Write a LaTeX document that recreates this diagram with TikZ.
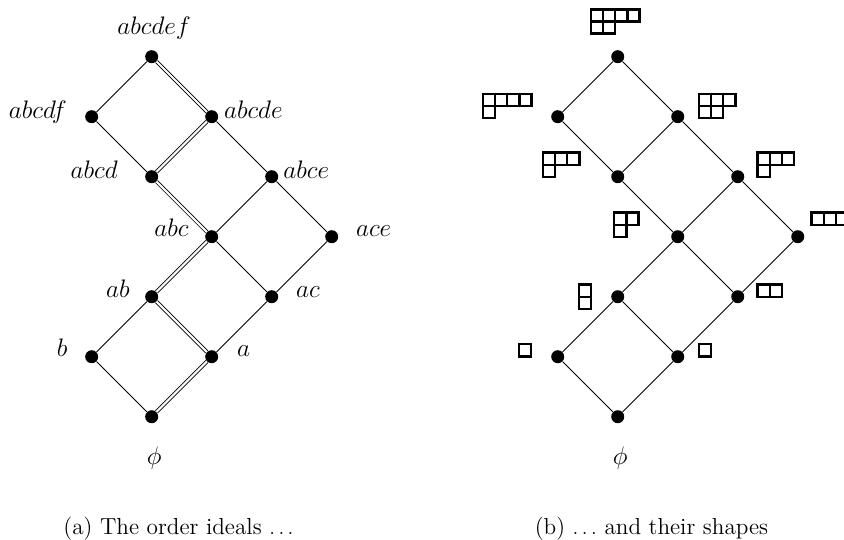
\documentclass[tikz,border=0pt]{standalone}
\usepackage{amsmath, amssymb}
\usepackage{tikz}

% lado de cada casilla de los diagramas
\newcommand{\lado}{0.203}
% diagrama de Young: #1 esquina superior izquierda, #2 longitudes de las filas
\newcommand{\forma}[2]{%
  \begin{scope}[shift={#1}]
    \foreach \largo [count=\fila] in {#2}
      \foreach \columna in {1,...,\largo}
        \draw[celda] ({(\columna-1)*\lado},{-(\fila-1)*\lado}) rectangle ++(\lado,-\lado);
  \end{scope}}

\begin{document}
\begin{tikzpicture}[x=1.2cm, y=1.2cm,
    punto/.style={circle, fill=black, inner sep=0pt, minimum size=0.26cm},
    arista/.style={line width=0.5pt},
    doble/.style={double, double distance=1.2pt, line width=0.5pt},
    etiqueta/.style={inner sep=0pt, font=\fontsize{14.6}{17}\selectfont},
    pie/.style={inner sep=0pt, anchor=base, font=\fontsize{13.2}{15}\selectfont},
    celda/.style={line width=1.4pt}]

		\useasboundingbox (-2.528,-2.038) rectangle (11.538,6.945);

		% (a) Los ideales
		\node[punto] (L-phi) at (0,0) {};
		\node[punto] (L-b) at (-1,1) {};
		\node[punto] (L-a) at (1,1) {};
		\node[punto] (L-ab) at (0,2) {};
		\node[punto] (L-ac) at (2,2) {};
		\node[punto] (L-abc) at (1,3) {};
		\node[punto] (L-ace) at (3,3) {};
		\node[punto] (L-abcd) at (0,4) {};
		\node[punto] (L-abce) at (2,4) {};
		\node[punto] (L-abcdf) at (-1,5) {};
		\node[punto] (L-abcde) at (1,5) {};
		\node[punto] (L-abcdef) at (0,6) {};

		\draw[arista] (L-phi) -- (L-b);
		\draw[arista] (L-b) -- (L-ab);
		\draw[arista] (L-a) -- (L-ac);
		\draw[arista] (L-ac) -- (L-abc);
		\draw[arista] (L-ac) -- (L-ace);
		\draw[arista] (L-abc) -- (L-abce);
		\draw[arista] (L-ace) -- (L-abce);
		\draw[arista] (L-abcd) -- (L-abcdf);
		\draw[arista] (L-abce) -- (L-abcde);
		\draw[arista] (L-abcdf) -- (L-abcdef);

		% Cadena maximal (doble)
		\draw[doble] (L-phi) -- (L-a);
		\draw[doble] (L-a) -- (L-ab);
		\draw[doble] (L-ab) -- (L-abc);
		\draw[doble] (L-abc) -- (L-abcd);
		\draw[doble] (L-abcd) -- (L-abcde);
		\draw[doble] (L-abcde) -- (L-abcdef);

		% Etiquetas
		\node[etiqueta, anchor=base] (t-abcdef) at (0.04,6.37) {$abcdef$};
		\node[etiqueta, anchor=base east] (t-abcdf) at (-1.41,4.97) {$abcdf$};
		\node[etiqueta, anchor=base west] (t-abcde) at (1.20,4.97) {$abcde$};
		\node[etiqueta, anchor=base east] (t-abcd) at (-0.56,3.97) {$abcd$};
		\node[etiqueta, anchor=base west] (t-abce) at (2.19,3.97) {$abce$};
		\node[etiqueta, anchor=base east] (t-abc) at (0.62,3.0) {$abc$};
		\node[etiqueta, anchor=base west] (t-ace) at (3.40,3.0) {$ace$};
		\node[etiqueta, anchor=base east] (t-ab) at (-0.36,1.99) {$ab$};
		\node[etiqueta, anchor=base west] (t-ac) at (2.40,1.99) {$ac$};
		\node[etiqueta, anchor=base east] (t-b) at (-1.40,1.0) {$b$};
		\node[etiqueta, anchor=base west] (t-a) at (1.42,1.0) {$a$};
		\node[etiqueta] (t-phiL) at (0.04,-0.69) {$\phi$};

		\node[pie] (pieA) at (0.447,-1.955) {(a) The order ideals $\ldots$};

		% (b) Sus formas
		\begin{scope}[shift={(7.767,0)}]
		\node[punto] (R-phi) at (0,0) {};
		\node[punto] (R-b) at (-1,1) {};
		\node[punto] (R-a) at (1,1) {};
		\node[punto] (R-ab) at (0,2) {};
		\node[punto] (R-ac) at (2,2) {};
		\node[punto] (R-abc) at (1,3) {};
		\node[punto] (R-ace) at (3,3) {};
		\node[punto] (R-abcd) at (0,4) {};
		\node[punto] (R-abce) at (2,4) {};
		\node[punto] (R-abcdf) at (-1,5) {};
		\node[punto] (R-abcde) at (1,5) {};
		\node[punto] (R-abcdef) at (0,6) {};

		\draw[arista] (R-phi) -- (R-b);
		\draw[arista] (R-phi) -- (R-a);
		\draw[arista] (R-b) -- (R-ab);
		\draw[arista] (R-a) -- (R-ab);
		\draw[arista] (R-a) -- (R-ac);
		\draw[arista] (R-ab) -- (R-abc);
		\draw[arista] (R-ac) -- (R-abc);
		\draw[arista] (R-ac) -- (R-ace);
		\draw[arista] (R-abc) -- (R-abcd);
		\draw[arista] (R-abc) -- (R-abce);
		\draw[arista] (R-ace) -- (R-abce);
		\draw[arista] (R-abcd) -- (R-abcdf);
		\draw[arista] (R-abcd) -- (R-abcde);
		\draw[arista] (R-abce) -- (R-abcde);
		\draw[arista] (R-abcdf) -- (R-abcdef);
		\draw[arista] (R-abcde) -- (R-abcdef);

		% Diagramas
		\forma{(-0.45,6.79)}{4,2}   % abcdef
		\forma{(-2.25,5.38)}{4,1}   % abcdf
		\forma{(1.35,5.38)}{3,2}    % abcde
		\forma{(-1.25,4.40)}{3,1}   % abcd
		\forma{(2.33,4.40)}{3,1}    % abce
		\forma{(-0.06,3.40)}{2,1}   % abc
		\forma{(3.23,3.40)}{3}      % ace
		\forma{(-0.65,2.20)}{1,1}   % ab
		\forma{(2.33,2.20)}{2}      % ac
		\forma{(-1.65,1.21)}{1}     % b
		\forma{(1.35,1.21)}{1}      % a

		\node[etiqueta] (t-phiR) at (0.04,-0.69) {$\phi$};
		\node[pie] (pieB) at (0.563,-1.955) {(b) $\ldots$ and their shapes};
		\end{scope}

\end{tikzpicture}
\end{document}
